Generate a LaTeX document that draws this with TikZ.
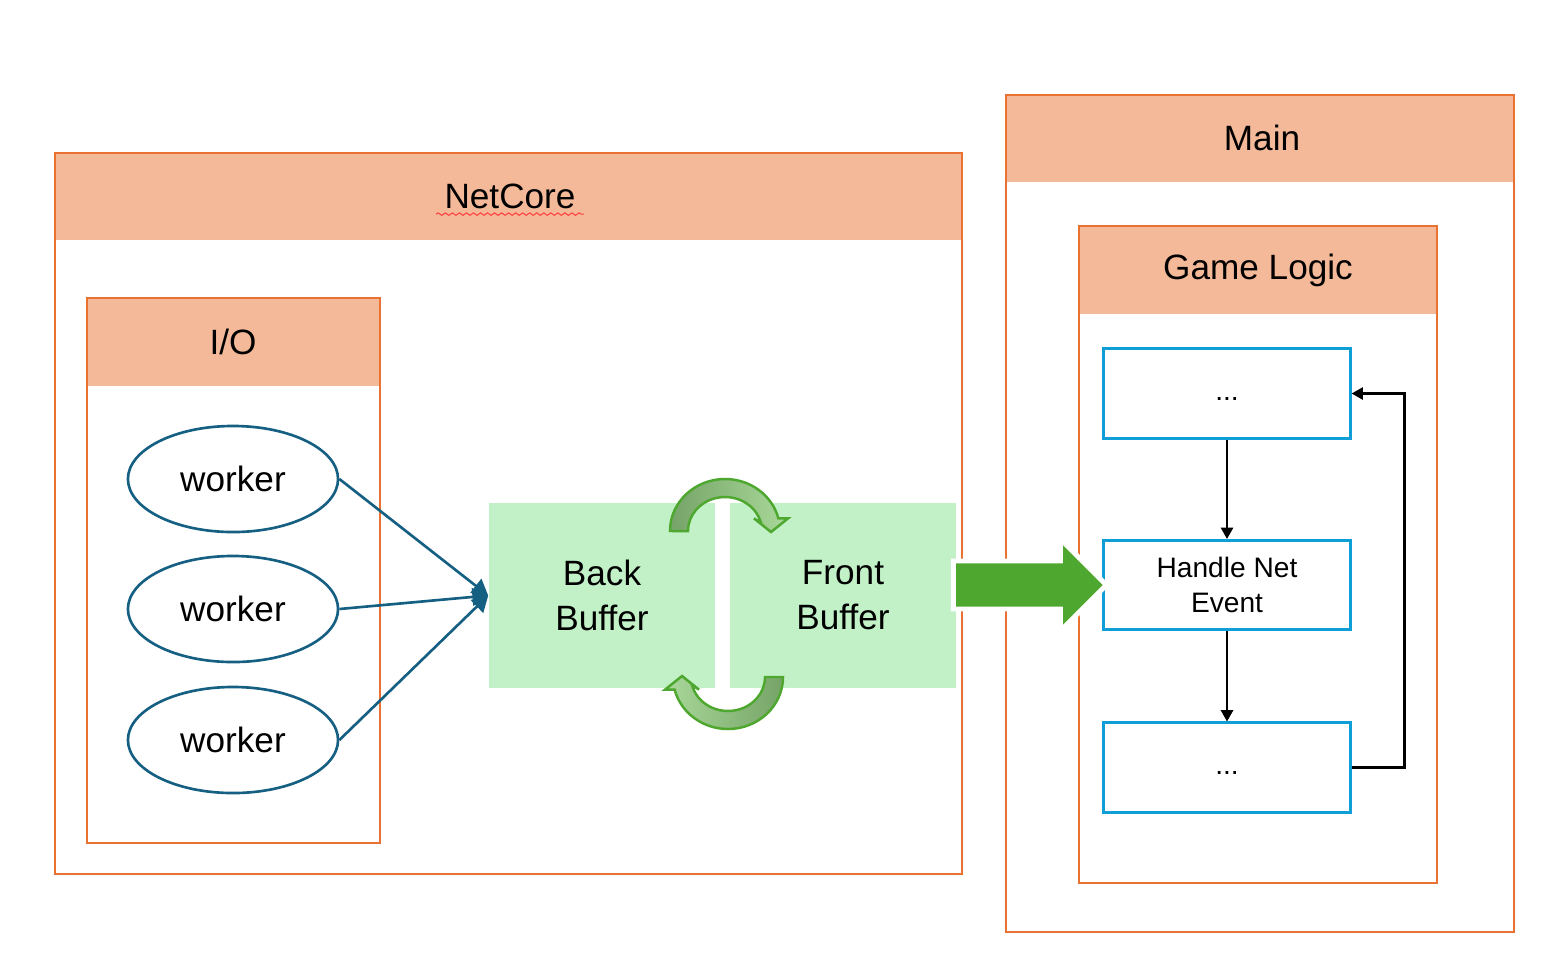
\documentclass[tikz,border=0pt]{standalone}
\usepackage{fontspec}
\setmainfont{Liberation Sans}
\usetikzlibrary{shapes.geometric,arrows.meta,calc,decorations.pathmorphing,positioning}
\definecolor{frameorange}{HTML}{E97132}
\definecolor{headpeach}{HTML}{F4B999}
\definecolor{workerblue}{HTML}{156082}
\definecolor{buffergreen}{HTML}{C2F1C8}
\definecolor{movegreen}{HTML}{4EA72E}
\definecolor{swapdark}{HTML}{76A468}
\definecolor{swaplight}{HTML}{A9D89A}
\definecolor{stepblue}{HTML}{0F9ED5}
\tikzset{
	frame/.style={draw=frameorange,line width=0.8pt},
	header/.style={fill=headpeach},
	title/.style={font=\fontsize{10}{12}\selectfont},
	worker/.style={ellipse,draw=workerblue,line width=0.75pt,minimum width=2.1cm,minimum height=1.06cm,font=\fontsize{10}{12}\selectfont},
	buffer/.style={fill=buffergreen,minimum width=2.26cm,minimum height=1.85cm,inner sep=0pt,align=center,font=\fontsize{10}{12.8}\selectfont},
	stepbox/.style={draw=stepblue,line width=0.85pt,minimum width=2.46cm,minimum height=0.89cm,inner sep=0pt,align=center,font=\fontsize{8}{10}\selectfont},
	feed/.style={draw=workerblue,line width=0.75pt,-{Triangle[length=4.5pt,width=5pt]}},
	flow/.style={line width=0.7pt,-{Triangle[length=3.2pt,width=3.4pt]}},
	bigarrow/.style={fill=movegreen,draw=white,line width=1.4pt,line join=miter},
	swapshade/.style={left color=swapdark,right color=swaplight},
	swap/.pic={
		\draw[swapshade,draw=movegreen,line width=0.7pt]
			(-55,0) arc[start angle=180,end angle=346,x radius=55,y radius=52]
			-- (63,-12.6) -- (46,1) -- (29,-12.6) -- (35.9,-8.2)
			arc[start angle=346,end angle=180,x radius=37,y radius=34] -- cycle;
	}
}
\begin{document}
\begin{tikzpicture}[x=0.01cm,y=-0.01cm]
	\useasboundingbox (0,0) rectangle (1561,972);
	\fill[header] (55,153) rectangle (962,240);
	\draw[frame] (55,153) rectangle (962,874);
	\node[title] (netcore) at (510,196) {NetCore};
	\draw[red!75,line width=0.3pt,decorate,decoration={snake,amplitude=0.35pt,segment length=2pt}] ($(netcore.base west)+(4,6)$) -- ($(netcore.base east)+(-4,6)$);
	\fill[header] (1006,95) rectangle (1514,182);
	\draw[frame] (1006,95) rectangle (1514,932);
	\node[title] (main) at (1262,138) {Main};
	\fill[header] (1079,226) rectangle (1437,314);
	\draw[frame] (1079,226) rectangle (1437,883);
	\node[title] (logic) at (1258,270) {Game Logic};
	\fill[header] (87,298) rectangle (380,386);
	\draw[frame] (87,298) rectangle (380,843);
	\node[title] (io) at (233,342) {I/O};
	\node[worker] (w1) at (233,479) {worker};
	\node[worker] (w2) at (233,609) {worker};
	\node[worker] (w3) at (233,740) {worker};
	\node[buffer] (back) at (602,595.5) {Back\\Buffer};
	\node[buffer] (front) at (843,595.5) {Front\\Buffer};
	\foreach \w in {w1,w2,w3}
		\draw[feed] (\w.east) -- (back.west);
	\pic at (725,531) {swap};
	\pic[rotate=180,swapshade/.style={left color=swaplight,right color=swapdark}] at (728,677) {swap};
	\node[stepbox] (s1) at (1227,393.5) {\strut...};
	\node[stepbox] (hle) at (1227,585) {Handle Net\\Event};
	\node[stepbox] (s3) at (1227,767.5) {\strut...};
	\draw[flow] (s1) -- (hle);
	\draw[flow] (hle) -- (s3);
	\draw[flow] (s3.east) -- ++(53,0) |- (s1.east);
	\path[bigarrow] (hle.west) ++(4,0) -- ++(-46,-46) -- ++(0,22) -- ++(-107,0) -- ++(0,48) -- ++(107,0) -- ++(0,22) -- cycle;
\end{tikzpicture}
\end{document}
